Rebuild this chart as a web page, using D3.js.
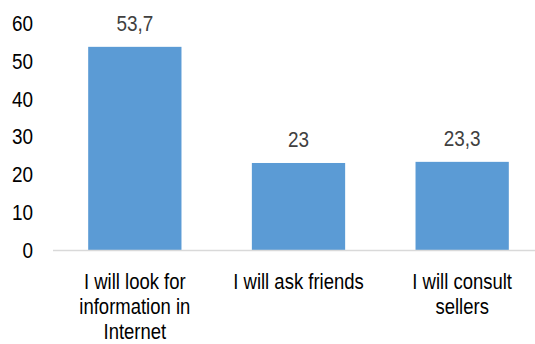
<!DOCTYPE html>
<html><head><meta charset="utf-8">
<script src="https://cdn.jsdelivr.net/npm/d3@7"></script>
<style>
body{margin:0;background:#fff;}
svg text{font-family:"Liberation Sans Narrow","Arial Narrow","Liberation Sans",Arial,sans-serif;fill:#000;}
</style></head><body>
<svg id="c" width="535" height="344"></svg>
<script>
const categories = [["I will look for","information in","Internet"],["I will ask friends"],["I will consult","sellers"]];
const values = [53.7, 23, 23.3];
const valueLabels = ["53,7", "23", "23,3"];
const yTicks = [0,10,20,30,40,50,60];

const SX = 0.86;
const svg = d3.select("#c");
const x = d3.scaleBand().domain(d3.range(values.length)).range([53,544]).paddingInner(0.43).paddingOuter(0.215);
const y = d3.scaleLinear().domain([0,60]).range([250,23]);

// y labels
svg.selectAll("text.yt").data(yTicks).join("text").attr("class","yt")
  .attr("transform",d=>`translate(33,${y(d)}) scale(${SX},1)`)
  .attr("text-anchor","end").attr("dy","0.36em").style("font-size","22px")
  .text(d=>d);

svg.selectAll("rect.bar").data(values).join("rect").attr("class","bar")
  .attr("x",(d,i)=>x(i)).attr("width",x.bandwidth())
  .attr("y",d=>y(d)).attr("height",d=>y(0)-y(d)).attr("fill","#5b9bd5");

svg.append("line").attr("x1",53).attr("x2",544).attr("y1",y(0)+0.5).attr("y2",y(0)+0.5)
  .attr("stroke","#d9d9d9").attr("stroke-width",1.5);

svg.selectAll("text.val").data(values).join("text").attr("class","val")
  .attr("transform",(d,i)=>`translate(${x(i)+x.bandwidth()/2},${y(d)-16}) scale(${SX},1)`)
  .attr("text-anchor","middle").style("font-size","22px").style("fill","#404040")
  .text((d,i)=>valueLabels[i]);

categories.forEach((lines,i)=>{
  const t = svg.append("text").attr("text-anchor","middle").style("font-size","21.5px")
    .attr("transform",`translate(${x(i)+x.bandwidth()/2},289) scale(${SX},1)`);
  lines.forEach((l,j)=>t.append("tspan").attr("x",0).attr("dy", j===0?0:25).text(l));
});
</script></body></html>
